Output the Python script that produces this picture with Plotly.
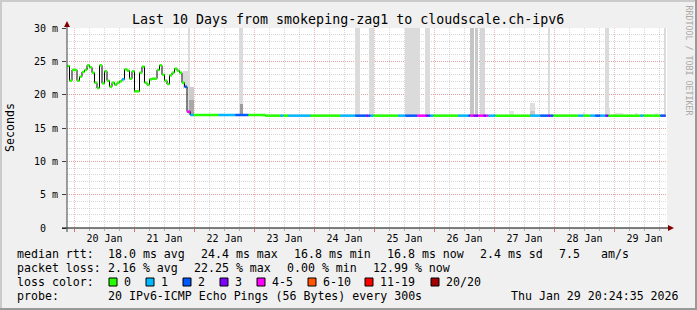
import plotly.graph_objects as go
import pandas as pd

# ---------------- data ----------------
# hourly median rtt (ms) of the first, noisy part of the period
noisy_start = "2026-01-19 21:00"
noisy_rtt = [24.3, 22.1, 23.7, 23.7, 22.1, 22.7, 23.4, 23.7, 24.4, 24.1, 23.3, 21.8,
             21.0, 24.4, 21.7, 23.5, 22.1, 21.2, 21.8, 21.5, 21.8, 22.0, 22.3, 23.8,
             23.6, 22.4, 23.5, 20.5, 20.5, 23.3, 24.2, 21.8, 21.5, 22.3, 22.4, 22.4,
             23.7, 24.4, 23.0, 22.1, 21.6, 22.9, 23.3, 23.9, 23.6, 23.3, 21.8, 21.2]
noisy_loss = [0, 0, 0, 0, 0, 0, 0, 0, 0, 0, 0, 0,
              0, 0, 0, 0, 0, 0, 0, 0, 0, 0, 1, 0,
              0, 0, 0, 0, 0, 0, 0, 0, 0, 0, 0, 0,
              0, 0, 0, 0, 0, 0, 0, 0, 0, 0, 0, 2]

# later part: segments of (nearly) constant median rtt, with lost pings out of 20
seg_start = ["2026-01-21 21:00", "2026-01-21 22:18", "2026-01-21 23:36", "2026-01-22 09:36",
             "2026-01-22 16:18", "2026-01-22 21:30", "2026-01-23 04:18", "2026-01-23 10:18",
             "2026-01-23 11:30", "2026-01-23 13:30", "2026-01-23 22:18", "2026-01-24 10:18",
             "2026-01-24 16:18", "2026-01-24 20:42", "2026-01-24 21:30", "2026-01-24 22:18",
             "2026-01-24 23:30", "2026-01-25 09:30", "2026-01-25 12:18", "2026-01-25 17:06",
             "2026-01-25 20:18", "2026-01-25 21:30", "2026-01-25 22:18", "2026-01-25 23:30",
             "2026-01-26 09:30", "2026-01-26 13:30", "2026-01-26 14:18", "2026-01-26 15:30",
             "2026-01-26 17:30", "2026-01-26 19:30", "2026-01-26 20:42", "2026-01-26 21:30",
             "2026-01-27 00:18", "2026-01-27 14:18", "2026-01-27 18:18", "2026-01-27 21:30",
             "2026-01-27 22:18", "2026-01-27 23:30", "2026-01-28 09:30", "2026-01-28 11:30",
             "2026-01-28 14:18", "2026-01-28 16:18", "2026-01-28 18:18", "2026-01-28 20:18",
             "2026-01-28 21:30", "2026-01-29 10:18", "2026-01-29 11:30", "2026-01-29 18:18",
             "2026-01-29 20:18"]
seg_rtt = [17.45, 16.95, 16.95, 16.95, 16.95, 16.95, 16.85, 16.85, 16.85, 16.85, 16.85, 16.85,
           16.85, 16.85, 16.85, 16.85, 16.85, 16.85, 16.85, 16.85, 16.85, 16.85, 16.85, 16.85,
           16.85, 16.85, 16.85, 16.85, 16.85, 16.85, 16.85, 16.85, 16.85, 16.85, 16.85, 16.85,
           16.85, 16.85, 16.85, 16.85, 16.85, 16.85, 16.85, 16.85, 16.85, 16.85, 16.85, 16.85,
           16.85]
seg_loss = [4, 1, 0, 1, 2, 0, 0, 1, 0, 1, 0, 1,
            2, 3, 2, 1, 0, 1, 2, 4, 3, 2, 1, 0,
            1, 2, 4, 3, 4, 3, 4, 1, 0, 1, 2, 3,
            2, 0, 1, 0, 1, 2, 1, 3, 0, 1, 0, 2,
            3]
data_end = "2026-01-29 20:30"

# smoke (ping spread): time span, low / high rtt (ms), density
smoke_t0 = ["2026-01-21 19:30", "2026-01-21 21:20", "2026-01-21 21:36", "2026-01-21 21:36",
            "2026-01-22 17:36", "2026-01-22 18:00", "2026-01-24 16:18", "2026-01-24 21:36",
            "2026-01-25 12:18", "2026-01-25 20:18", "2026-01-26 14:18", "2026-01-26 16:18",
            "2026-01-26 18:00", "2026-01-27 05:54", "2026-01-27 14:18", "2026-01-27 14:18",
            "2026-01-27 21:36", "2026-01-28 11:30", "2026-01-28 20:18", "2026-01-28 21:06",
            "2026-01-29 00:18", "2026-01-29 08:18", "2026-01-29 16:18", "2026-01-29 19:36"]
smoke_t1 = ["2026-01-21 21:20", "2026-01-21 22:20", "2026-01-21 23:36", "2026-01-21 23:36",
            "2026-01-22 19:12", "2026-01-22 19:12", "2026-01-24 18:18", "2026-01-24 23:36",
            "2026-01-25 18:18", "2026-01-25 22:18", "2026-01-26 15:36", "2026-01-26 17:30",
            "2026-01-26 20:18", "2026-01-27 07:42", "2026-01-27 16:18", "2026-01-27 16:18",
            "2026-01-27 22:18", "2026-01-28 12:18", "2026-01-28 21:36", "2026-01-28 22:18",
            "2026-01-29 03:30", "2026-01-29 09:30", "2026-01-29 17:30", "2026-01-29 20:30"]
smoke_lo = [21.0, 16.9, 16.9, 16.9, 16.85, 16.85, 16.85, 16.85, 16.85, 16.85, 16.85, 16.85,
            16.85, 16.85, 16.85, 16.85, 16.85, 16.85, 16.85, 16.85, 16.85, 16.85, 16.85, 16.85]
smoke_hi = [23.5, 30.0, 21.2, 19.2, 30.0, 18.6, 30.0, 30.0, 30.0, 30.0, 30.0, 30.0,
            30.0, 17.5, 18.8, 17.6, 30.0, 17.4, 30.0, 18.0, 17.3, 17.2, 17.25, 30.0]
smoke_density = [0.15, 0.14, 0.2, 0.34, 0.14, 0.39, 0.14, 0.14, 0.14, 0.14, 0.23, 0.21,
                 0.16, 0.11, 0.13, 0.22, 0.14, 0.11, 0.14, 0.13, 0.11, 0.11, 0.11, 0.14]

y_tickvals = [0, 5, 10, 15, 20, 25, 30]
y_ticktext = ["0\u00a0\u00a0", "5 m", "10 m", "15 m", "20 m", "25 m", "30 m"]

loss_labels = ["0", "1", "2", "3", "4-5", "6-10", "11-19", "20/20"]
loss_colors = ["#26ff00", "#00b8ff", "#0059ff", "#7e00ff", "#ff00ff", "#ff5500", "#ff0000", "#a00000"]

title = "Last 10 Days from smokeping-zag1 to cloudscale.ch-ipv6"
legend_rows = [
    [("median rtt:", 16), ("18.0 ms avg", 107), ("24.4 ms max", 200), ("16.8 ms min", 293),
     ("16.8 ms now", 386), ("2.4 ms sd", 479), ("7.5", 558), ("am/s", 600)],
    [("packet loss:", 16), ("2.16 % avg", 107), ("22.25 % max", 193), ("0.00 % min", 286),
     ("12.99 % now", 372)],
    [("loss color:", 16)],
    [("probe:", 16), ("20 IPv6-ICMP Echo Pings (56 Bytes) every 300s", 107)],
]
stamp = "Thu Jan 29 20:24:35 2026"
box_x = [109, 146, 183, 220, 257, 308, 365, 431]

# ---------------- layout geometry ----------------
W, H = 697, 310
L, R, T, B = 67, 30, 28, 82
PW, PH = W - L - R, H - T - B
def px(x): return (x - L) / PW
def py(y): return (H - B - y) / PH

MONO = "DejaVu Sans Mono"
LEG = 11.6

def bucket(n):
    if n <= 3: return n
    if n <= 5: return 4
    if n <= 10: return 5
    if n <= 19: return 6
    return 7

# assemble median series
noisy_times = list(pd.date_range(noisy_start, periods=len(noisy_rtt), freq="h"))
starts = noisy_times + list(pd.to_datetime(seg_start))
rtts = noisy_rtt + seg_rtt
losses = noisy_loss + seg_loss
ends = starts[1:] + [pd.Timestamp(data_end)]

fig = go.Figure()

# smoke
t0 = pd.to_datetime(smoke_t0); t1 = pd.to_datetime(smoke_t1)
mids = t0 + (t1 - t0) / 2
widths = [(b - a).total_seconds() * 1000 for a, b in zip(t0, t1)]
shades = []
for d in smoke_density:
    g = int(round(255 * (1 - d)))
    shades.append(f"rgb({g},{g},{g})")
fig.add_trace(go.Bar(x=mids, y=[h - l for h, l in zip(smoke_hi, smoke_lo)], base=smoke_lo,
                     width=widths, marker=dict(color=shades, line=dict(width=0)),
                     hoverinfo="skip", showlegend=False))

# black median step line
fig.add_trace(go.Scatter(x=starts + [ends[-1]], y=rtts + [rtts[-1]], mode="lines",
                         line=dict(color="#000000", width=1, shape="hv"),
                         hoverinfo="skip", showlegend=False))

# colored loss segments
for bi, col in enumerate(loss_colors):
    xs, ys = [], []
    for s, e, v, n in zip(starts, ends, rtts, losses):
        if bucket(n) == bi:
            xs += [s, e, None]; ys += [v, v, None]
    if xs:
        fig.add_trace(go.Scatter(x=xs, y=ys, mode="lines", line=dict(color=col, width=2.5),
                                 hoverinfo="skip", showlegend=False))

MAJ = "rgba(235,80,80,0.4)"
MIN = "rgba(140,140,140,0.35)"
fig.update_layout(
    width=W, height=H, margin=dict(l=L, r=R, t=T, b=B),
    paper_bgcolor="#f0f0f0", plot_bgcolor="#ffffff",
    barmode="overlay", bargap=0, showlegend=False,
    font=dict(family=MONO, color="#000000"),
    xaxis=dict(type="date", range=["2026-01-19 21:00", "2026-01-29 21:00"],
               tick0="2026-01-20", dtick=86400000, tickformat="%d %b", ticklabelmode="period",
               showgrid=True, gridcolor=MAJ, griddash="1px,1px", gridwidth=1,
               ticks="outside", ticklen=3, tickcolor="#e07070", ticklabelstandoff=-2,
               minor=dict(dtick=21600000, tick0="2026-01-20", showgrid=True, gridcolor=MIN,
                          griddash="1px,1px", ticks="outside", ticklen=2, tickcolor="#b0b0b0"),
               showline=False, zeroline=False, tickfont=dict(size=10, family=MONO)),
    yaxis=dict(range=[0, 30], tickmode="array", tickvals=y_tickvals, ticktext=y_ticktext,
               showgrid=True, gridcolor=MAJ, griddash="1px,1px",
               minor=dict(dtick=1, showgrid=True, gridcolor=MIN, griddash="1px,1px"),
               ticks="outside", ticklen=4, tickcolor="#404040", ticklabelstandoff=2,
               showline=False, zeroline=False, tickfont=dict(size=10, family=MONO)),
)

shapes = []
# frame
shapes.append(dict(type="rect", xref="paper", yref="paper", x0=px(0), x1=px(W), y0=py(0), y1=py(2),
                   fillcolor="#cbcbcb", line=dict(width=0)))
shapes.append(dict(type="rect", xref="paper", yref="paper", x0=px(0), x1=px(2), y0=py(0), y1=py(H),
                   fillcolor="#cbcbcb", line=dict(width=0)))
shapes.append(dict(type="rect", xref="paper", yref="paper", x0=px(0), x1=px(W), y0=py(H - 2), y1=py(H),
                   fillcolor="#999999", line=dict(width=0)))
shapes.append(dict(type="rect", xref="paper", yref="paper", x0=px(W - 2), x1=px(W), y0=py(0), y1=py(H),
                   fillcolor="#999999", line=dict(width=0)))
# axes with arrows
shapes.append(dict(type="line", xref="paper", yref="paper", x0=px(62), x1=px(669), y0=0, y1=0,
                   line=dict(color="#000000", width=1)))
shapes.append(dict(type="line", xref="paper", yref="paper", x0=0, x1=0, y0=py(232), y1=py(24),
                   line=dict(color="#404040", width=1)))
shapes.append(dict(type="path", xref="paper", yref="paper",
                   path=f"M{px(668)},{py(225)} L{px(674)},{py(228)} L{px(668)},{py(231)} Z",
                   fillcolor="#800000", line=dict(width=0)))
shapes.append(dict(type="path", xref="paper", yref="paper",
                   path=f"M{px(L-3)},{py(27)} L{px(L)},{py(21)} L{px(L+3)},{py(27)} Z",
                   fillcolor="#800000", line=dict(width=0)))
# legend boxes
for bx, col in zip(box_x, loss_colors):
    shapes.append(dict(type="rect", xref="paper", yref="paper", x0=px(bx), x1=px(bx + 8),
                       y0=py(286), y1=py(278), fillcolor=col, line=dict(color="#000000", width=1)))

ann = []
ann.append(dict(text=title, x=px(348), y=py(19.5), xanchor="center", yanchor="middle",
                font=dict(size=13.3, family=MONO)))
ann.append(dict(text="RRDTOOL / TOBI OETIKER", x=px(688.5), y=py(60), textangle=90,
                xanchor="center", yanchor="middle", font=dict(size=8.3, family=MONO, color="#a8a8a8")))
ann.append(dict(text="Seconds", x=px(10), y=py(128), textangle=-90, xanchor="center",
                yanchor="middle", font=dict(size=LEG, family=MONO)))
row_y = [254, 268, 282, 296]
for ry, row in zip(row_y, legend_rows):
    for txt, x in row:
        ann.append(dict(text=txt.replace(" ", "\u00a0"), x=px(x - 1), y=py(ry), xanchor="left",
                        yanchor="middle", font=dict(size=LEG, family=MONO)))
for bx, lab in zip(box_x, loss_labels):
    ann.append(dict(text=lab, x=px(bx + 13), y=py(282), xanchor="left", yanchor="middle",
                    font=dict(size=LEG, family=MONO)))
ann.append(dict(text=stamp, x=px(681), y=py(296), xanchor="right", yanchor="middle",
                font=dict(size=LEG, family=MONO)))
for a in ann:
    a.update(xref="paper", yref="paper", showarrow=False)

fig.update_layout(shapes=shapes, annotations=ann)
fig.write_html("out.html")
